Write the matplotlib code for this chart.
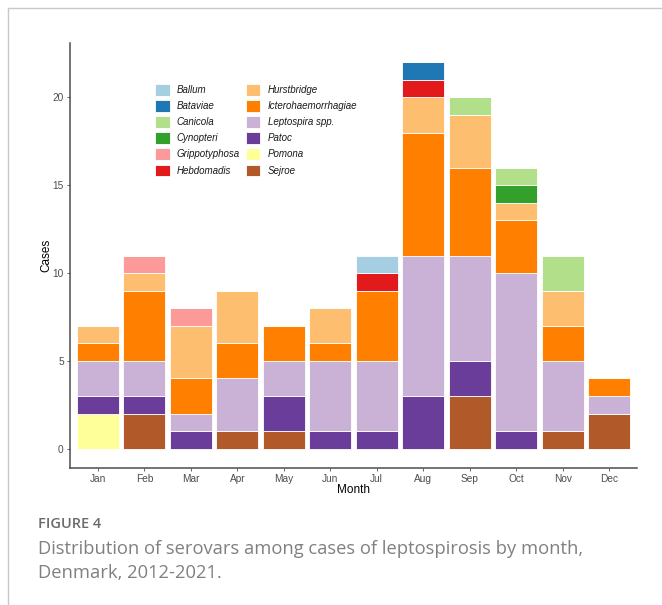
import numpy as np
import matplotlib
matplotlib.use('Agg')
import matplotlib.pyplot as plt
from matplotlib.lines import Line2D

months = ['Jan', 'Feb', 'Mar', 'Apr', 'May', 'Jun', 'Jul', 'Aug', 'Sep', 'Oct', 'Nov', 'Dec']

serovars = ['Ballum', 'Bataviae', 'Canicola', 'Cynopteri', 'Grippotyphosa', 'Hebdomadis',
            'Hurstbridge', 'Icterohaemorrhagiae', 'Leptospira spp.', 'Patoc', 'Pomona', 'Sejroe']

colors = ['#A6CEE3', '#1F78B4', '#B2DF8A', '#33A02C', '#FB9A99', '#E31A1C',
          '#FDBF6F', '#FF7F00', '#CAB2D6', '#6A3D9A', '#FFFF99', '#B15928']

# cases per month for each serovar
ballum        = [0, 0, 0, 0, 0, 0, 1, 0, 0, 0, 0, 0]
bataviae      = [0, 0, 0, 0, 0, 0, 0, 1, 0, 0, 0, 0]
canicola      = [0, 0, 0, 0, 0, 0, 0, 0, 1, 1, 2, 0]
cynopteri     = [0, 0, 0, 0, 0, 0, 0, 0, 0, 1, 0, 0]
grippotyphosa = [0, 1, 1, 0, 0, 0, 0, 0, 0, 0, 0, 0]
hebdomadis    = [0, 0, 0, 0, 0, 0, 1, 1, 0, 0, 0, 0]
hurstbridge   = [1, 1, 3, 3, 0, 2, 0, 2, 3, 1, 2, 0]
ictero        = [1, 4, 2, 2, 2, 1, 4, 7, 5, 3, 2, 1]
lepto_spp     = [2, 2, 1, 3, 2, 4, 4, 8, 6, 9, 4, 1]
patoc         = [1, 1, 1, 0, 2, 1, 1, 3, 2, 1, 0, 0]
pomona        = [2, 0, 0, 0, 0, 0, 0, 0, 0, 0, 0, 0]
sejroe        = [0, 2, 0, 1, 1, 0, 0, 0, 3, 0, 1, 2]

counts = [ballum, bataviae, canicola, cynopteri, grippotyphosa, hebdomadis,
          hurstbridge, ictero, lepto_spp, patoc, pomona, sejroe]

plt.rcParams['font.family'] = ['Liberation Sans', 'DejaVu Sans']

fig = plt.figure(figsize=(6.62, 6.05), dpi=100)
ax = fig.add_axes([70 / 662, 1 - 468 / 605, 567 / 662, 425 / 605])

x = np.arange(1, 13)
bottom = np.zeros(12)
# ggplot stacks the first factor level on top, so draw from the last one up
for name, col, vals in reversed(list(zip(serovars, colors, counts))):
    vals = np.array(vals, dtype=float)
    ax.bar(x, vals, width=0.9, bottom=bottom, color=col, edgecolor='white',
           linewidth=0.6, label=name)
    bottom += vals

ax.set_xlim(0.4, 12.6)
ax.set_ylim(-1.1, 23.1)
ax.set_xticks(x)
ax.set_xticklabels(months)
ax.set_yticks([0, 5, 10, 15, 20])
ax.tick_params(axis='both', labelsize=7.3, colors='#4D4D4D', length=2.5, width=0.6,
               labelcolor='#4D4D4D', pad=2)
for side in ['top', 'right']:
    ax.spines[side].set_visible(False)
for side in ['left', 'bottom']:
    ax.spines[side].set_color('#4D4D4D')
    ax.spines[side].set_linewidth(1.1)
ax.set_ylabel('Cases', fontsize=8.5, labelpad=0)
ax.set_xlabel('Month', fontsize=8.5, labelpad=0)

handles, labels = ax.get_legend_handles_labels()
order = [labels.index(s) for s in serovars]
leg = ax.legend([handles[i] for i in order], [labels[i] for i in order],
                ncol=2, loc='upper left', bbox_to_anchor=(155 / 662, 1 - 84 / 605),
                bbox_transform=fig.transFigure, frameon=False, fontsize=7,
                handlelength=1.5, handleheight=1.45, handletextpad=0.75,
                labelspacing=0.47, columnspacing=0.6, borderpad=0, borderaxespad=0)
for t in leg.get_texts():
    t.set_fontstyle('italic')
    t.set_color('#1a1a1a')

# page frame lines
fig.add_artist(Line2D([8 / 662, 8 / 662], [0, 1 - 8 / 605], transform=fig.transFigure,
                      color='#c8c8c8', linewidth=1))
fig.add_artist(Line2D([8 / 662, 1], [1 - 8 / 605, 1 - 8 / 605], transform=fig.transFigure,
                      color='#c8c8c8', linewidth=1))

fig.text(38 / 662, 1 - 524 / 605, 'FIGURE 4', fontsize=10.5, color='#6b6b6b',
         family=['Open Sans', 'DejaVu Sans'], fontweight='semibold', va='center', ha='left')
fig.text(38 / 662, 1 - 561 / 605,
         'Distribution of serovars among cases of leptospirosis by month,\nDenmark, 2012-2021.',
         fontsize=13.2, color='#808080', family=['Open Sans', 'DejaVu Sans'],
         va='center', ha='left', linespacing=1.42)

fig.savefig('out.png', dpi=100)
